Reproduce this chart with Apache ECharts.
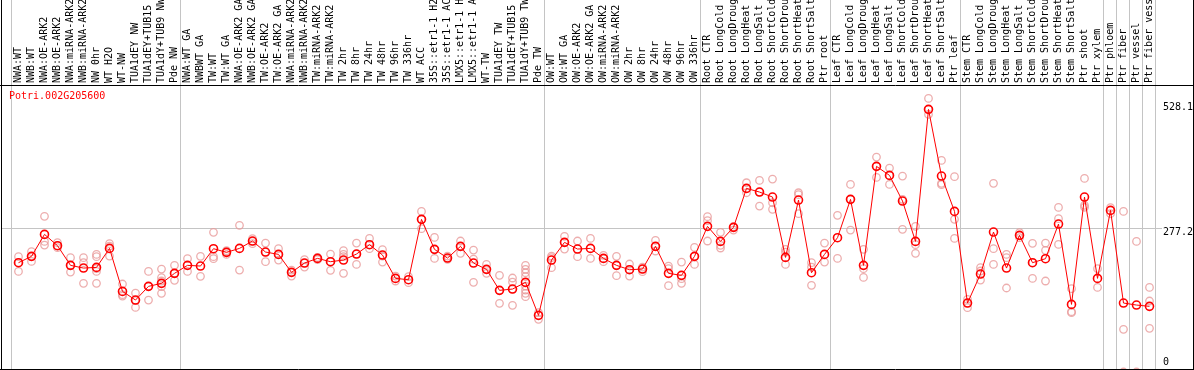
<!DOCTYPE html>
<html><head><meta charset="utf-8">
<script src="https://cdn.jsdelivr.net/npm/echarts@6/dist/echarts.min.js"></script>
<style>html,body{margin:0;padding:0;background:#fff;overflow:hidden}#c{width:1194px;height:370px}</style>
</head><body><div id="c"></div>
<script>
const geneName = 'Potri.002G205600';
const categories = [
 'NWA:WT','NWB:WT','NWA:OE-ARK2','NWB:OE-ARK2','NWA:miRNA-ARK2','NWB:miRNA-ARK2','NW 0hr','WT H2O','WT-NW','TUA1dEY NW',
 'TUA1dEY+TUB15 NW','TUA1dY+TUB9 NW','Pde NW','NWA:WT GA','NWBWT GA','TW:WT','TW:WT GA','NWA:OE-ARK2 GA','NWB:OE-ARK2 GA','TW:OE-ARK2',
 'TW:OE-ARK2 GA','NWA:miRNA-ARK2','NWB:miRNA-ARK2','TW:miRNA-ARK2','TW:miRNA-ARK2 GA','TW 2hr','TW 8hr','TW 24hr','TW 48hr','TW 96hr',
 'TW 336hr','WT ACC','35S::etr1-1 H2O','35S::etr1-1 ACC','LMX5::etr1-1 H2O','LMX5::etr1-1 ACC','WT-TW','TUA1dEY TW','TUA1dEY+TUB15 TW','TUA1dY+TUB9 TW',
 'Pde TW','OW:WT','OW:WT GA','OW:OE-ARK2','OW:OE-ARK2 GA','OW:miRNA-ARK2','OW:miRNA-ARK2 GA','OW 2hr','OW 8hr','OW 24hr',
 'OW 48hr','OW 96hr','OW 336hr','Root CTR','Root LongCold','Root LongDrought','Root LongHeat','Root LongSalt','Root ShortCold','Root ShortDrought',
 'Root ShortHeat','Root ShortSalt','Ptr root','Leaf CTR','Leaf LongCold','Leaf LongDrought','Leaf LongHeat','Leaf LongSalt','Leaf ShortCold','Leaf ShortDrought',
 'Leaf ShortHeat','Leaf ShortSalt','Ptr leaf','Stem CTR','Stem LongCold','Stem LongDrought','Stem LongHeat','Stem LongSalt','Stem ShortCold','Stem ShortDrought',
 'Stem ShortHeat','Stem ShortSalt','Ptr shoot','Ptr xylem','Ptr phloem','Ptr fiber','Ptr vessel','Ptr fiber vessel'
];
const meanValues = [
 211.0,223.2,265.6,243.8,205.8,200.6,201.9,238.6,155.6,138.9,
 165.3,171.1,190.4,205.8,204.5,238.0,230.9,238.6,252.8,231.5,
 227.0,192.3,210.3,219.3,212.9,216.1,227.7,245.7,225.7,180.7,
 178.1,294.6,236.7,219.9,242.5,210.3,198.1,157.6,160.1,173.0,
 109.3,216.1,250.2,237.3,238.6,219.3,205.8,197.4,198.7,242.5,
 190.4,186.5,223.2,281.1,252.1,279.2,354.4,347.3,337.7,221.2,
 331.9,191.6,227.0,259.2,333.2,205.8,396.9,379.5,330.0,252.1,
 506.9,378.2,310.0,133.1,189.1,270.1,200.6,263.7,211.0,218.7,
 285.6,130.5,337.7,180.7,311.9,133.1,129.2,126.7
];
const replicateValues = [
 [222.5,211.0,194.2],[232.2,222.5,213.5],[300.4,252.1,245.0],[249.6,243.8,239.9],[220.6,205.8,192.9],
 [220.6,211.0,171.1],[227.0,222.5,199.4,194.2,171.1],[247.6,243.1,223.8],[169.8,149.2,146.6],[152.4,138.3,124.7],
 [194.2,165.3,138.9],[198.7,182.0,175.6,164.6,151.8],[205.8,190.4,176.9],[218.7,194.2],[223.2,184.6],
 [269.5,222.5,218.7],[234.1,232.2,227.0],[283.0,196.8],[257.3,252.1,247.6],[248.9,231.5,212.9],
 [238.0,227.0,216.1],[196.8,192.3,185.2],[216.7,210.3,202.6],[221.2,219.3,216.7],[227.7,212.9,196.2],
 [234.1,227.0,222.5,190.4],[248.9,227.7,207.7],[257.9,245.7,238.0],[236.0,223.8,212.2],[185.2,175.6],
 [183.9,172.4],[310.0,294.6,276.6],[259.8,236.7,219.3],[223.8,219.9,217.4],[252.8,242.5,229.0],
 [235.4,218.0,173.0],[207.7,198.1,190.4],[186.5,157.6,132.5],[181.4,173.6,160.1,128.6],[205.8,198.1,191.6,183.9,165.9,158.2,151.8,145.3],
 [114.5,101.6],[223.8,220.6,201.3],[261.8,250.2,237.3],[252.8,222.5],[257.9,219.3],
 [225.1,219.3,212.9],[223.2,205.8,185.9],[208.4,197.4,185.2],[202.6,198.7,193.6],[254.0,242.5,233.5],
 [204.5,199.4,166.6],[212.2,180.1,171.1],[240.5,223.2,207.7],[299.7,292.0,252.8],[269.5,244.4,239.3],
 [280.4,279.2,274.0],[365.3,354.4,346.0],[369.8,347.3,320.3],[372.4,326.7,313.9],[236.7,231.5,207.7],
 [346.0,342.2,305.5],[211.0,202.6,167.2],[248.9,212.2],[302.3,219.3],[362.1,333.2,274.0],
 [236.7,199.4,182.6],[414.9,396.9,375.6],[393.6,379.5,362.1],[378.2,333.2,275.3],[281.1,245.7,229.0],
 [528.1,506.9,497.2],[408.4,364.1,361.5],[376.9,294.6,257.9],[140.2,133.1,124.1],[201.3,194.9,177.5],
 [364.1,238.0,207.7],[227.0,220.6,162.1],[268.9,263.7,259.2],[248.3,211.0,180.7],[248.9,234.8,175.6],
 [317.7,295.9,246.3],[160.8,116.4,114.5],[373.7,321.6,318.0],[199.4,163.3],[317.1,305.5],
 [310.0,82.3,0],[252.1,0],[163.3,137.0,84.2]
];
const yTickValues = [0, 277.2, 528.1];
const yTickLabels = ['0', '277.2', '528.1'];
const gridLineValue = 277.2;
const groupBoundaries = [0, 13, 41, 53, 63, 73, 84, 85, 86, 87, 88];

const FONT = 'DejaVu Sans Mono';
const repPoints = [];
replicateValues.forEach((arr, i) => arr.forEach(v => repPoints.push([i, v])));

const chart = echarts.init(document.getElementById('c'), null, {renderer: 'canvas'});
const labelPad = {'0': [0,0,20,0], '277.2': [8,0,0,0], '528.1': [18,0,0,0]};
const rich = {};
yTickLabels.forEach((l, i) => { rich['t' + i] = {fontFamily: FONT, fontSize: 10, color: '#000', padding: labelPad[l]}; });

chart.setOption({
  animation: false,
  backgroundColor: '#fff',
  title: {text: geneName, left: 9, top: 91, padding: 0,
    textStyle: {color: '#ff0000', fontFamily: FONT, fontSize: 10, fontWeight: 'normal'}},
  grid: {left: 12, top: 86, width: 1144, height: 286, containLabel: false, outerBoundsMode: 'none'},
  xAxis: {type: 'category', data: categories, position: 'top', boundaryGap: true,
    axisLine: {show: false}, axisTick: {show: false}, splitLine: {show: false},
    axisLabel: {rotate: 90, interval: 0, margin: 3, hideOverlap: false, fontFamily: FONT, fontSize: 10, color: '#000'}},
  yAxis: {type: 'value', position: 'right', min: 0, max: 552,
    axisLine: {show: false}, axisTick: {show: false}, splitLine: {show: false},
    axisLabel: {customValues: yTickValues, margin: 7, align: 'left', verticalAlign: 'middle',
      fontFamily: FONT, fontSize: 10, color: '#000',
      formatter: function (v) { const i = yTickValues.indexOf(v); return '{t' + i + '|' + yTickLabels[i] + '}'; },
      rich: rich}},
  series: [
    {type: 'scatter', data: repPoints, symbol: 'circle', symbolSize: 7.5, z: 2, clip: false,
      itemStyle: {color: 'rgba(0,0,0,0)', borderColor: '#e89a9a', borderWidth: 1.3}},
    {type: 'line', data: meanValues, symbol: 'circle', symbolSize: 8, z: 3, clip: false,
      lineStyle: {color: '#ff0000', width: 1},
      itemStyle: {color: 'rgba(0,0,0,0)', borderColor: '#ff0000', borderWidth: 1.6}}
  ]
});

function drawDecor() {
  const g = [];
  const half = 6.5;
  groupBoundaries.forEach(b => {
    let x;
    if (b === 0) x = chart.convertToPixel({xAxisIndex: 0}, categories[0]) - half;
    else x = chart.convertToPixel({xAxisIndex: 0}, categories[b - 1]) + half;
    x = Math.round(x - 1) + 0.5;
    g.push({type: 'line', shape: {x1: x, y1: 0, x2: x, y2: 369}, style: {stroke: '#c4c4c4', lineWidth: 1}, z: 1, silent: true});
  });
  const gy = Math.round(chart.convertToPixel({yAxisIndex: 0}, gridLineValue)) + 0.5;
  g.push({type: 'line', shape: {x1: 2, y1: gy, x2: 1162, y2: gy}, style: {stroke: '#c4c4c4', lineWidth: 1}, z: 1, silent: true});
  g.push({type: 'line', shape: {x1: 0, y1: 85.5, x2: 1194, y2: 85.5}, style: {stroke: '#000', lineWidth: 1}, z: 5, silent: true});
  g.push({type: 'line', shape: {x1: 0, y1: 369.5, x2: 1194, y2: 369.5}, style: {stroke: '#000', lineWidth: 1}, z: 5, silent: true});
  g.push({type: 'line', shape: {x1: 1.5, y1: 0, x2: 1.5, y2: 370}, style: {stroke: '#000', lineWidth: 1}, z: 5, silent: true});
  g.push({type: 'line', shape: {x1: 1193.5, y1: 0, x2: 1193.5, y2: 370}, style: {stroke: '#000', lineWidth: 1}, z: 5, silent: true});
  chart.setOption({graphic: g});
}
drawDecor();
</script>
</body></html>
